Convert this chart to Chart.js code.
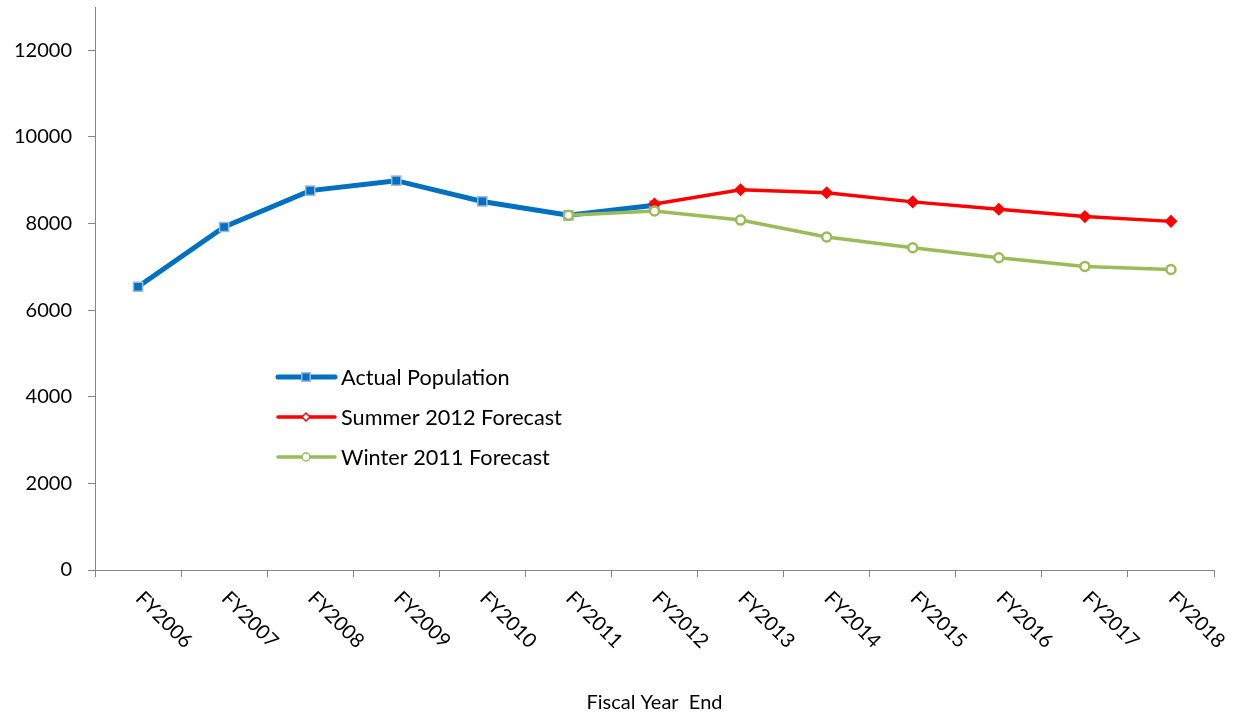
<!DOCTYPE html>
<html><head><meta charset="utf-8">
<script src="https://cdn.jsdelivr.net/npm/chart.js@4.4.0/dist/chart.umd.min.js"></script>
<style>html,body{margin:0;padding:0;background:#fff;overflow:hidden}#wrap{width:1236px;height:717px}</style>
</head><body><div id="wrap"><canvas id="c" width="1236" height="717"></canvas></div>
<script>
const categories = ['FY2006','FY2007','FY2008','FY2009','FY2010','FY2011','FY2012','FY2013','FY2014','FY2015','FY2016','FY2017','FY2018'];
const actualPopulation   = [6540, 7920, 8760, 8990, 8510, 8190, 8420, null, null, null, null, null, null];
const summer2012Forecast = [null, null, null, null, null, null, 8450, 8780, 8710, 8500, 8330, 8160, 8050];
const winter2011Forecast = [null, null, null, null, null, 8190, 8290, 8080, 7690, 7440, 7210, 7010, 6940];
const yTickValues = [0, 2000, 4000, 6000, 8000, 10000, 12000];
const yMax = 13000;
const seriesNames = ['Actual Population', 'Summer 2012 Forecast', 'Winter 2011 Forecast'];
const xTitle = 'Fiscal Year  End';

const FONT = 'Lato';
const AXIS = '#868686';

const xLabelPlugin = {
  id: 'xLabels',
  afterDraw(chart) {
    const ctx = chart.ctx, xs = chart.scales.x;
    ctx.save();
    ctx.font = '20px ' + FONT;
    ctx.fillStyle = '#000';
    ctx.textAlign = 'left';
    ctx.textBaseline = 'middle';
    categories.forEach((lab, i) => {
      const x = xs.getPixelForValue(i);
      ctx.save();
      ctx.translate(x + 1, xs.top + 25);
      ctx.rotate(Math.PI / 4);
      ctx.fillText(lab, 0, 0);
      ctx.restore();
    });
    ctx.restore();
  }
};

const legendPlugin = {
  id: 'customLegend',
  afterDraw(chart) {
    const ctx = chart.ctx;
    const rows = [377, 417, 457];
    const legendMarks = [
      {style: 'rect', r: 6, fill: '#0070C0', stroke: '#9DB9E0', bw: 1.5, lw: 5},
      {style: 'rectRot', r: 4, fill: '#FFFFFF', stroke: '#FF0000', bw: 1.5, lw: 3.5},
      {style: 'circle', r: 4, fill: '#FFFFFF', stroke: '#9BBB59', bw: 1.5, lw: 3.5}
    ];
    chart.data.datasets.forEach((ds, i) => {
      const y = rows[i], m = legendMarks[i];
      ctx.save();
      ctx.strokeStyle = ds.borderColor;
      ctx.lineWidth = m.lw;
      ctx.lineCap = 'round';
      ctx.beginPath(); ctx.moveTo(278, y); ctx.lineTo(335, y); ctx.stroke();
      ctx.fillStyle = m.fill; ctx.strokeStyle = m.stroke; ctx.lineWidth = m.bw;
      Chart.helpers.drawPoint(ctx, {pointStyle: m.style, radius: m.r, borderWidth: m.bw}, 306, y);
      ctx.fillStyle = '#000';
      ctx.font = '21.7px ' + FONT;
      ctx.textAlign = 'left'; ctx.textBaseline = 'middle';
      ctx.fillText(ds.label, 341, y + 1);
      ctx.restore();
    });
  }
};

new Chart(document.getElementById('c'), {
  type: 'line',
  data: {
    labels: categories,
    datasets: [
      {label: seriesNames[0], data: actualPopulation, borderColor: '#0070C0', backgroundColor: '#0070C0',
       borderWidth: 5, pointStyle: 'rect', pointRadius: 6.5, pointBackgroundColor: '#0070C0',
       pointBorderColor: '#9DB9E0', pointBorderWidth: 1.5, order: 2, tension: 0},
      {label: seriesNames[1], data: summer2012Forecast, borderColor: '#FF0000', backgroundColor: '#FF0000',
       borderWidth: 3.5, pointStyle: 'rectRot', pointRadius: 5.5, pointBackgroundColor: '#FF0000',
       pointBorderColor: '#FF0000', pointBorderWidth: 1.5, order: 1, tension: 0},
      {label: seriesNames[2], data: winter2011Forecast, borderColor: '#9BBB59', backgroundColor: '#9BBB59',
       borderWidth: 3.5, pointStyle: 'circle', pointRadius: 4.5, pointBackgroundColor: '#FFFFFF',
       pointBorderColor: '#9BBB59', pointBorderWidth: 2.5, order: 0, tension: 0}
    ]
  },
  options: {
    responsive: false,
    animation: false,
    layout: {padding: {top: 7, right: 22, left: 0, bottom: 0}, autoPadding: false},
    plugins: {legend: {display: false}, tooltip: {enabled: false}},
    scales: {
      x: {
        offset: true,
        grid: {offset: true, drawOnChartArea: false, drawTicks: true, tickLength: 7, color: AXIS, lineWidth: 1},
        border: {color: AXIS, width: 1},
        ticks: {display: false},
        title: {display: true, text: xTitle, font: {family: FONT, size: 20}, color: '#000', padding: {top: 0, bottom: 2}},
        afterFit(s) { s.height = 147; s.paddingLeft = 0; s.paddingRight = 0; }
      },
      y: {
        min: 0, max: yMax,
        grid: {drawOnChartArea: false, drawTicks: true, tickLength: 7, color: AXIS, lineWidth: 1},
        border: {color: AXIS, width: 1},
        ticks: {stepSize: 2000, includeBounds: false, color: '#000', font: {family: FONT, size: 20}, padding: 16,
                callback: v => String(v)},
        afterBuildTicks(s) { s.ticks = yTickValues.map(v => ({value: v})); },
        afterFit(s) { s.width = 95; s.paddingTop = 0; s.paddingBottom = 0; }
      }
    }
  },
  plugins: [xLabelPlugin, legendPlugin]
});
</script></body></html>
